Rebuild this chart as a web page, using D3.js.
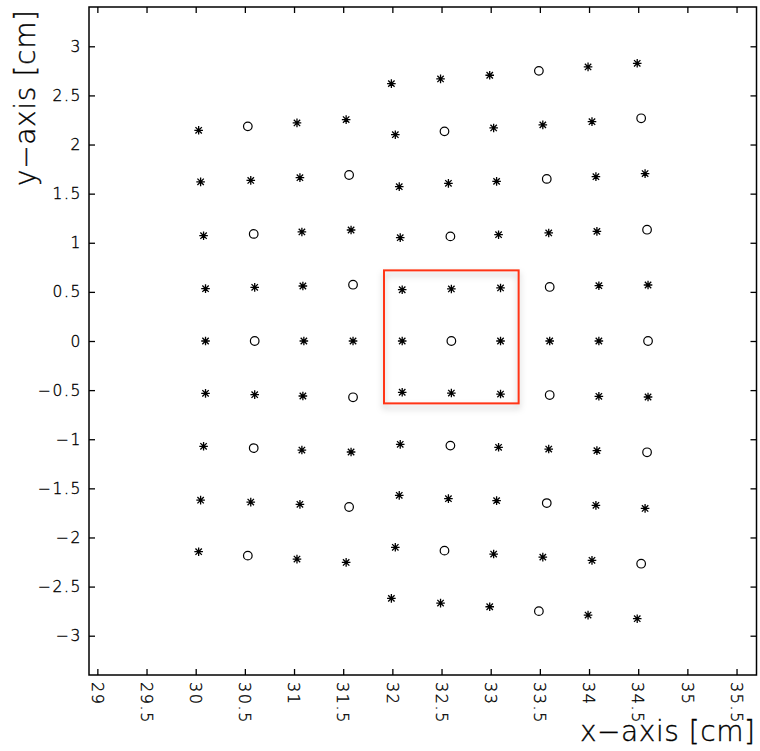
<!DOCTYPE html>
<html lang="en">
<head>
<meta charset="UTF-8">
<title>x-y grid</title>
<script src="https://d3js.org/d3.v7.min.js"></script>
<style>
body {margin: 0; background: white;}
svg {display: block;}
text {font-family: "DejaVu Sans", "Liberation Sans", sans-serif; font-weight: 200; fill: #000; stroke: #000; stroke-width: 0.35px;}
</style>
</head>
<body>
<svg width="760" height="751"></svg>
<script>
// left block, 4 columns per row, top to bottom
var leftX = [
  [30.03, 30.53, 31.03, 31.53],
  [30.05, 30.56, 31.06, 31.56],
  [30.08, 30.59, 31.08, 31.58],
  [30.10, 30.60, 31.09, 31.60],
  [30.10, 30.60, 31.10, 31.60],
  [30.10, 30.60, 31.09, 31.60],
  [30.08, 30.59, 31.08, 31.58],
  [30.05, 30.56, 31.06, 31.56],
  [30.03, 30.53, 31.03, 31.53]
];
var leftY = [
  [2.145, 2.185, 2.22, 2.254],
  [1.62, 1.635, 1.663, 1.69],
  [1.072, 1.09, 1.11, 1.13],
  [0.533, 0.546, 0.56, 0.573],
  [0, 0, 0, 0],
  [-0.533, -0.546, -0.56, -0.573],
  [-1.072, -1.09, -1.11, -1.13],
  [-1.62, -1.64, -1.663, -1.69],
  [-2.145, -2.185, -2.22, -2.254]
];
var leftSym = ["*o**", "***o", "*o**", "***o", "*o**", "***o", "*o**", "***o", "*o**"];

// right block, 6 columns per row
var rightX = [
  [31.99, 32.49, 32.99, 33.49, 33.99, 34.49],
  [32.03, 32.53, 33.03, 33.53, 34.03, 34.53],
  [32.07, 32.57, 33.06, 33.57, 34.07, 34.57],
  [32.08, 32.59, 33.08, 33.59, 34.08, 34.59],
  [32.10, 32.60, 33.10, 33.60, 34.10, 34.60],
  [32.10, 32.60, 33.10, 33.60, 34.10, 34.60],
  [32.10, 32.60, 33.10, 33.60, 34.10, 34.60],
  [32.08, 32.59, 33.08, 33.59, 34.08, 34.59],
  [32.07, 32.57, 33.06, 33.57, 34.07, 34.57],
  [32.03, 32.53, 33.03, 33.53, 34.03, 34.53],
  [31.99, 32.49, 32.99, 33.49, 33.99, 34.49]
];
var rightY = [
  [2.62, 2.668, 2.705, 2.75, 2.79, 2.827],
  [2.1, 2.134, 2.169, 2.2, 2.233, 2.267],
  [1.571, 1.605, 1.625, 1.65, 1.673, 1.704],
  [1.052, 1.065, 1.082, 1.1, 1.116, 1.133],
  [0.522, 0.53, 0.54, 0.55, 0.563, 0.57],
  [0, 0, 0, 0, 0, 0],
  [-0.522, -0.53, -0.54, -0.55, -0.563, -0.57],
  [-1.052, -1.065, -1.082, -1.1, -1.116, -1.133],
  [-1.571, -1.605, -1.625, -1.65, -1.673, -1.704],
  [-2.1, -2.134, -2.169, -2.2, -2.233, -2.267],
  [-2.62, -2.668, -2.705, -2.75, -2.79, -2.827]
];
var rightSym = ["***o**", "*o***o", "***o**", "*o***o", "***o**", "*o***o", "***o**", "*o***o", "***o**", "*o***o", "***o**"];

// red selection box
var boxX = [31.915, 33.284];
var boxY = [-0.635, 0.719];

var xTicks = [29, 29.5, 30, 30.5, 31, 31.5, 32, 32.5, 33, 33.5, 34, 34.5, 35, 35.5];
var yTicks = [-3, -2.5, -2, -1.5, -1, -0.5, 0, 0.5, 1, 1.5, 2, 2.5, 3];

var svg = d3.select("svg");
var L = 89, R = 756.5, T = 7, B = 675;
var xs = d3.scaleLinear().domain([28.915, 35.703]).range([L, R]);
var ys = d3.scaleLinear().domain([-3.4, 3.4]).range([B, T]);

var defs = svg.append("defs");
var f = defs.append("filter").attr("id", "shadow").attr("x", "-10%").attr("y", "-10%").attr("width", "130%").attr("height", "140%");
f.append("feDropShadow").attr("dx", 0).attr("dy", 4).attr("stdDeviation", 3).attr("flood-color", "#000").attr("flood-opacity", 0.25);

function fmt(v) { return String(v).replace("-", "\u2212"); }

// axes: ticks point inward on all four sides
svg.append("g").attr("transform", "translate(0," + B + ")")
  .call(d3.axisBottom(xs).tickValues(xTicks).tickSize(-6).tickFormat(""))
  .call(g => g.select(".domain").remove());
svg.append("g").attr("transform", "translate(0," + T + ")")
  .call(d3.axisTop(xs).tickValues(xTicks).tickSize(-6).tickFormat(""))
  .call(g => g.select(".domain").remove());
svg.append("g").attr("transform", "translate(" + L + ",0)")
  .call(d3.axisLeft(ys).tickValues(yTicks).tickSize(-6).tickFormat(""))
  .call(g => g.select(".domain").remove());
svg.append("g").attr("transform", "translate(" + R + ",0)")
  .call(d3.axisRight(ys).tickValues(yTicks).tickSize(-6).tickFormat(""))
  .call(g => g.select(".domain").remove());
svg.selectAll(".tick line").attr("stroke", "#000").attr("stroke-width", 1.3);

svg.append("rect").attr("x", L).attr("y", T).attr("width", R - L).attr("height", B - T)
  .attr("fill", "none").attr("stroke", "#000").attr("stroke-width", 1.5);

// tick labels
svg.selectAll(".ylab").data(yTicks).enter().append("text")
  .attr("x", 82).attr("y", d => ys(d)).attr("dy", "0.36em")
  .attr("text-anchor", "end").style("font-size", "15.5px").style("letter-spacing", "1.6px")
  .text(fmt);
svg.selectAll(".xlab").data(xTicks).enter().append("text")
  .attr("transform", d => "translate(" + xs(d) + "," + 682 + ") rotate(90)")
  .attr("dy", "0.36em").style("font-size", "16px").style("letter-spacing", "1.6px")
  .text(fmt);

// axis titles
svg.append("text").attr("x", 580).attr("y", 741)
  .attr("textLength", 175).attr("lengthAdjust", "spacing")
  .style("font-size", "28px").text("x\u2212axis [cm]");
svg.append("text").attr("transform", "translate(35,186) rotate(-90)")
  .attr("textLength", 176).attr("lengthAdjust", "spacing")
  .style("font-size", "28px").text("y\u2212axis [cm]");

// points
var pts = [];
function addBlock(X, Y, S) {
  X.forEach(function(row, i) {
    row.forEach(function(x, j) { pts.push({x: x, y: Y[i][j], s: S[i][j]}); });
  });
}
addBlock(leftX, leftY, leftSym);
addBlock(rightX, rightY, rightSym);

var a = 4.3, d2 = 3.2;
var star = "M0," + (-a) + "V" + a + "M" + (-a) + ",0H" + a +
  "M" + (-d2) + "," + (-d2) + "L" + d2 + "," + d2 + "M" + (-d2) + "," + d2 + "L" + d2 + "," + (-d2);

var g = svg.append("g");
g.selectAll("path.star").data(pts.filter(p => p.s == "*")).enter().append("path")
  .attr("class", "star")
  .attr("transform", p => "translate(" + xs(p.x) + "," + ys(p.y) + ")")
  .attr("d", star).attr("stroke", "#000").attr("stroke-width", 1.3).attr("fill", "none");
g.selectAll("circle").data(pts.filter(p => p.s == "o")).enter().append("circle")
  .attr("cx", p => xs(p.x)).attr("cy", p => ys(p.y)).attr("r", 4.3)
  .attr("fill", "none").attr("stroke", "#000").attr("stroke-width", 1.2);

svg.append("rect")
  .attr("x", xs(boxX[0])).attr("y", ys(boxY[1]))
  .attr("width", xs(boxX[1]) - xs(boxX[0])).attr("height", ys(boxY[0]) - ys(boxY[1]))
  .attr("fill", "none").attr("stroke", "#ff3419").attr("stroke-width", 2)
  .attr("filter", "url(#shadow)");
</script>
</body>
</html>
